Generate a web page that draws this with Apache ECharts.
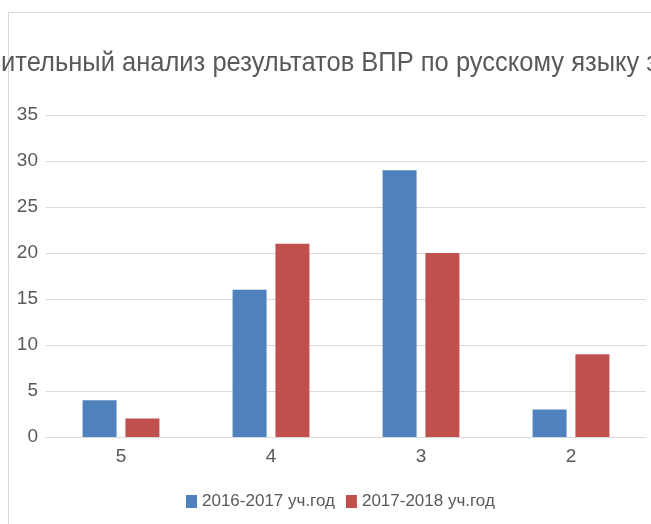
<!DOCTYPE html>
<html>
<head>
<meta charset="utf-8">
<script src="https://cdn.jsdelivr.net/npm/echarts@6/dist/echarts.min.js"></script>
<style>
  html, body { margin: 0; padding: 0; background: #fff; }
  #chart { width: 651px; height: 524px; }
</style>
</head>
<body>
<div id="chart"></div>
<script>
// данные диаграммы
const grades = ['5', '4', '3', '2'];
const year2017 = [4, 16, 29, 3];
const year2018 = [2, 21, 20, 9];
const seriesNames = ['2016-2017 уч.год', '2017-2018 уч.год'];
const titleText = 'Сравнительный анализ результатов ВПР по русскому языку за';

const FONT = '"Liberation Sans", Arial, sans-serif';
const TEXT_COLOR = '#595959';
const LINE_COLOR = '#d9d9d9';
const TITLE_SIZE = 28;

// заголовок шире картинки и обрезан с двух сторон;
// шрифт в оригинале узкий, поэтому сжимаем текст по горизонтали
function measure(text, size) {
    const ctx = document.createElement('canvas').getContext('2d');
    ctx.font = size + 'px ' + FONT;
    return ctx.measureText(text).width;
}
const visiblePart = 'ительный анализ результатов ВПР по русскому языку з';
const titleScale = 657 / measure(visiblePart, TITLE_SIZE);
const titleShift = measure('Сравн', TITLE_SIZE) * titleScale;

const chart = echarts.init(document.getElementById('chart'));

const option = {
    animation: false,
    textStyle: { fontFamily: FONT },
    graphic: [
        {
            type: 'rect',
            shape: { x: 8.5, y: 12.5, width: 700, height: 600 },
            style: { fill: 'none', stroke: LINE_COLOR, lineWidth: 1 }
        },
        {
            type: 'text',
            x: -titleShift + 1,
            y: 63,
            scaleX: titleScale,
            style: {
                text: titleText,
                font: TITLE_SIZE + 'px ' + FONT,
                fill: TEXT_COLOR,
                verticalAlign: 'middle'
            }
        }
    ],
    legend: {
        data: seriesNames,
        top: 488,
        left: 181,
        icon: 'rect',
        itemWidth: 11,
        itemHeight: 13,
        itemGap: 11,
        textStyle: { color: TEXT_COLOR, fontSize: 17, fontFamily: FONT }
    },
    grid: {
        left: 46,
        right: 5,
        top: 115,
        bottom: 87,
        containLabel: false,
        outerBoundsMode: 'none'
    },
    xAxis: {
        type: 'category',
        data: grades,
        axisTick: { show: false },
        axisLine: { lineStyle: { color: LINE_COLOR, width: 1 } },
        axisLabel: { color: TEXT_COLOR, fontSize: 19, margin: 10, fontFamily: FONT }
    },
    yAxis: {
        type: 'value',
        min: 0,
        max: 35,
        interval: 5,
        axisLine: { show: false },
        axisTick: { show: false },
        splitLine: { lineStyle: { color: LINE_COLOR, width: 1 } },
        axisLabel: { color: TEXT_COLOR, fontSize: 19, margin: 8, fontFamily: FONT }
    },
    series: [
        {
            name: seriesNames[0],
            type: 'bar',
            data: year2017,
            barWidth: 34,
            barGap: '26%',
            itemStyle: { color: '#4f81bd' }
        },
        {
            name: seriesNames[1],
            type: 'bar',
            data: year2018,
            barWidth: 34,
            barGap: '26%',
            itemStyle: { color: '#c0504d' }
        }
    ]
};

chart.setOption(option);
</script>
</body>
</html>
